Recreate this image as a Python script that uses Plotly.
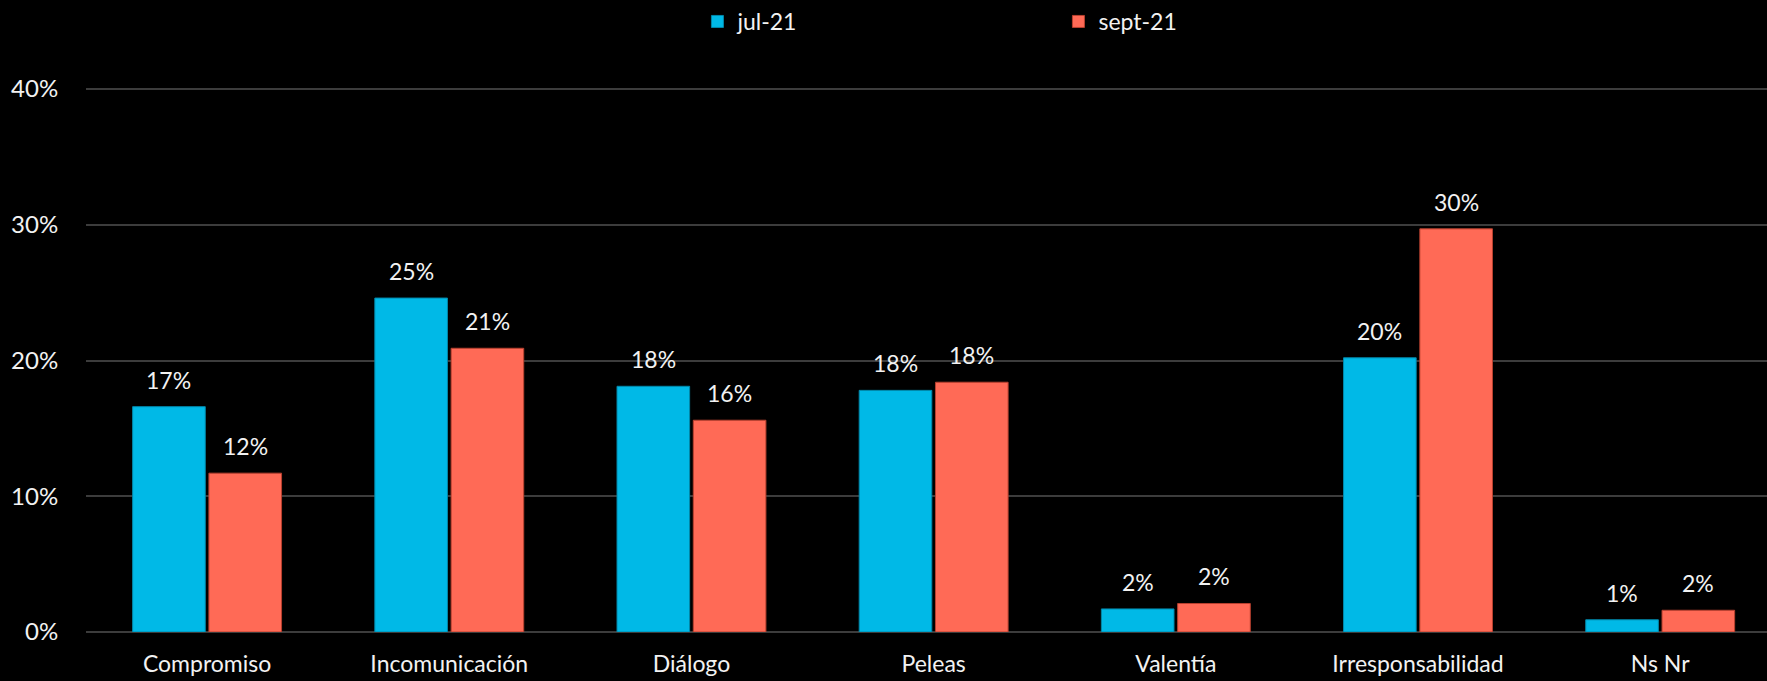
import plotly.graph_objects as go

categories = ["Compromiso", "Incomunicación", "Diálogo", "Peleas", "Valentía", "Irresponsabilidad", "Ns Nr"]
series_names = ["jul-21", "sept-21"]
jul_21 = [0.166, 0.246, 0.181, 0.178, 0.017, 0.202, 0.009]
sept_21 = [0.117, 0.209, 0.156, 0.184, 0.021, 0.297, 0.016]
y_ticks = [0, 0.1, 0.2, 0.3, 0.4]
y_tick_labels = ["0%", "10%", "20%", "30%", "40%"]

colors = ["#00B9E7", "#FF6A56"]
edge_colors = ["#0088AA", "#B8402F"]
FONT = "Lato"
TXT = "#F2F2F2"
BARGAP = 0.37
BARGROUPGAP = 0.048

fig = go.Figure()
for name, vals, c, ec in zip(series_names, [jul_21, sept_21], colors, edge_colors):
    fig.add_trace(go.Bar(
        name=name, x=categories, y=vals,
        marker=dict(color=c, line=dict(color=ec, width=1)),
        hoverinfo="x+y",
    ))

# data labels above bars
slot = (1 - BARGAP) / 2
annotations = []
for k, vals in enumerate([jul_21, sept_21]):
    off = (k - 0.5) * slot
    for i, v in enumerate(vals):
        annotations.append(dict(
            x=i + off, y=v, xref="x", yref="y",
            text=f"{round(v * 100)}%", showarrow=False,
            yanchor="middle", yshift=27,
            font=dict(family=FONT, size=23, color=TXT),
        ))

fig.update_layout(
    width=1767, height=681,
    paper_bgcolor="#000000", plot_bgcolor="#000000",
    margin=dict(l=86, r=0, t=87, b=49),
    barmode="group", bargap=BARGAP, bargroupgap=BARGROUPGAP,
    font=dict(family=FONT, size=23, color=TXT),
    legend=dict(
        orientation="h", xref="container", yref="container",
        x=0.599, xanchor="center", y=1.0, yanchor="top",
        entrywidth=316, entrywidthmode="pixels",
        font=dict(family=FONT, size=23, color=TXT),
        bgcolor="rgba(0,0,0,0)", borderwidth=0,
    ),
    annotations=annotations,
    xaxis=dict(
        type="category", range=[-0.5, 6.441],
        showgrid=False, showline=False, zeroline=False,
        ticks="outside", ticklen=11, tickcolor="rgba(0,0,0,0)",
        tickfont=dict(family=FONT, size=23, color=TXT),
    ),
    yaxis=dict(
        range=[0, 0.40147], tickvals=y_ticks, ticktext=y_tick_labels,
        showgrid=True, gridcolor="#3C3C3C", gridwidth=1.5,
        zeroline=True, zerolinecolor="#3C3C3C", zerolinewidth=2,
        showline=False, ticks="outside", ticklen=22, tickcolor="rgba(0,0,0,0)",
        tickfont=dict(family=FONT, size=24, color=TXT),
    ),
)

fig.write_html(
    "out.html",
    config={"displayModeBar": False},
    post_script="document.body.style.margin='0';document.body.style.background='#000';document.documentElement.style.background='#000';",
)
